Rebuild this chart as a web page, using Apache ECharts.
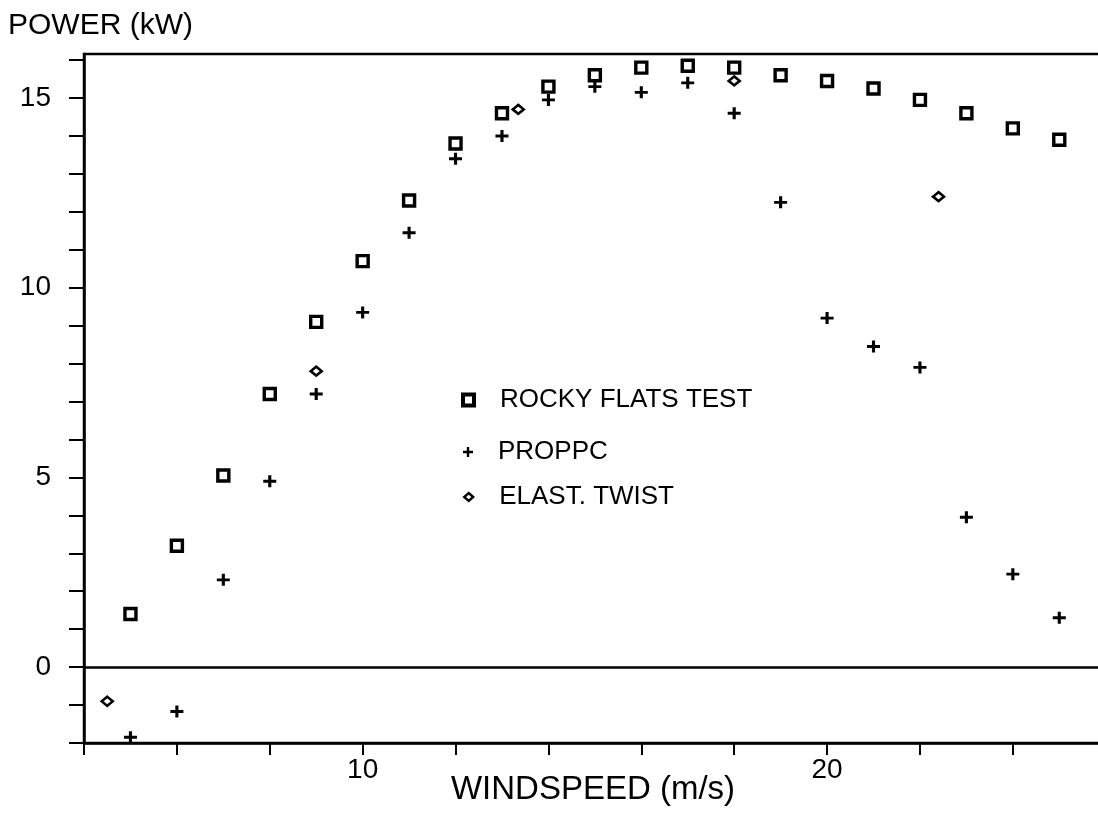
<!DOCTYPE html>
<html>
<head>
<meta charset="utf-8">
<script src="https://cdn.jsdelivr.net/npm/echarts@6/dist/echarts.min.js"></script>
<style>
  html, body { margin: 0; background: #fff; }
  #chart { width: 1098px; height: 813px; }
</style>
</head>
<body>
<div id="chart"></div>
<script>
// windspeed (m/s) / power (kW)
const rockyWind = [5, 6, 7, 8, 9, 10, 11, 12, 13, 14, 15, 16, 17, 18, 19, 20, 21, 22, 23, 24, 25];
const rockyPower = [1.4, 3.2, 5.05, 7.2, 9.1, 10.7, 12.3, 13.8, 14.6, 15.3, 15.6, 15.8, 15.85, 15.8, 15.6, 15.45, 15.25, 14.95, 14.6, 14.2, 13.9];

const proppcWind = [5, 6, 7, 8, 9, 10, 11, 12, 13, 14, 15, 16, 17, 18, 19, 20, 21, 22, 23, 24, 25];
const proppcPower = [-1.85, -1.17, 2.3, 4.9, 7.2, 9.35, 11.45, 13.4, 14.0, 14.95, 15.3, 15.15, 15.4, 14.6, 12.25, 9.2, 8.45, 7.9, 3.95, 2.45, 1.3];

const twistWind = [4.5, 9, 13.35, 18, 22.4];
const twistPower = [-0.9, 7.8, 14.7, 15.45, 12.4];

// axis ticks and labels
const xTicks = [4, 6, 8, 10, 12, 14, 16, 18, 20, 22, 24];
const xLabels = [10, 20];
const yTicks = [-2, -1, 0, 1, 2, 3, 4, 5, 6, 7, 8, 9, 10, 11, 12, 13, 14, 15, 16];
const yLabels = [0, 5, 10, 15];

const FONT = 'Liberation Sans, Arial, Helvetica, sans-serif';
const PLUS = 'path://M3.8 0H6.2V3.8H10V6.2H6.2V10H3.8V6.2H0V3.8H3.8Z';

function pairs(xs, ys) {
  return xs.map((x, i) => [x, ys[i]]);
}

const chart = echarts.init(document.getElementById('chart'));

const legendText = (pad) => ({
  fontFamily: FONT, fontSize: 26, color: '#000', padding: [0, 0, 0, pad]
});

chart.setOption({
  animation: false,
  backgroundColor: '#fff',
  title: {
    text: 'POWER (kW)',
    left: 8, top: 11, padding: 0,
    textStyle: { fontFamily: FONT, fontSize: 30, fontWeight: 'normal', color: '#000' }
  },
  grid: {
    left: 84, top: 54, right: -4, bottom: 70,
    outerBoundsMode: 'none',
    show: true, borderColor: '#000', borderWidth: 2.5, backgroundColor: 'transparent'
  },
  legend: [
    {
      data: [{ name: 'ROCKY FLATS TEST', icon: 'rect',
        itemStyle: { color: '#fff', borderColor: '#000', borderWidth: 4 } }],
      left: 461, top: 387, padding: 0, itemWidth: 11, itemHeight: 11,
      selectedMode: false, textStyle: legendText(21)
    },
    {
      data: [{ name: 'PROPPC', icon: PLUS, itemStyle: { color: '#000' } }],
      left: 463, top: 439, padding: 0, itemWidth: 10, itemHeight: 10,
      selectedMode: false, textStyle: legendText(20)
    },
    {
      data: [{ name: 'ELAST. TWIST', icon: 'diamond',
        itemStyle: { color: '#fff', borderColor: '#000', borderWidth: 2.4 } }],
      left: 463, top: 484, padding: 0, itemWidth: 9, itemHeight: 8,
      selectedMode: false, textStyle: legendText(21)
    }
  ],
  xAxis: {
    type: 'value', min: 4, max: 25.92,
    name: 'WINDSPEED (m/s)', nameLocation: 'middle', nameGap: 30,
    nameMoveOverlap: false,
    nameTextStyle: { fontFamily: FONT, fontSize: 33, color: '#000' },
    axisLine: { onZero: false, lineStyle: { color: '#000', width: 2.5 } },
    axisTick: { show: true, length: 12, customValues: xTicks, lineStyle: { color: '#000', width: 2 } },
    axisLabel: { customValues: xLabels, fontFamily: FONT, fontSize: 28, color: '#000', margin: 13 },
    splitLine: { show: false }
  },
  yAxis: {
    type: 'value', min: -2, max: 16.16,
    axisLine: { show: true, lineStyle: { color: '#000', width: 2.5 } },
    axisTick: { show: true, length: 15, customValues: yTicks, lineStyle: { color: '#000', width: 2 } },
    axisLabel: { customValues: yLabels, fontFamily: FONT, fontSize: 28, color: '#000', margin: 33 },
    splitLine: { show: false }
  },
  series: [
    {
      name: 'ROCKY FLATS TEST', type: 'scatter',
      data: pairs(rockyWind, rockyPower),
      symbol: 'rect', symbolSize: 11,
      itemStyle: { color: '#fff', borderColor: '#000', borderWidth: 3.4, opacity: 1 },
      emphasis: { disabled: true }
    },
    {
      name: 'PROPPC', type: 'scatter',
      data: pairs(proppcWind, proppcPower),
      symbol: PLUS, symbolSize: [13, 12],
      itemStyle: { color: '#000', opacity: 1 },
      emphasis: { disabled: true },
      markLine: {
        silent: true, symbol: 'none', label: { show: false },
        lineStyle: { color: '#000', width: 2.5, type: 'solid' },
        data: [{ yAxis: 0 }]
      }
    },
    {
      name: 'ELAST. TWIST', type: 'scatter',
      data: pairs(twistWind, twistPower),
      symbol: 'diamond', symbolSize: [11, 9],
      itemStyle: { color: '#fff', borderColor: '#000', borderWidth: 2.6, opacity: 1 },
      emphasis: { disabled: true }
    }
  ]
});
</script>
</body>
</html>
